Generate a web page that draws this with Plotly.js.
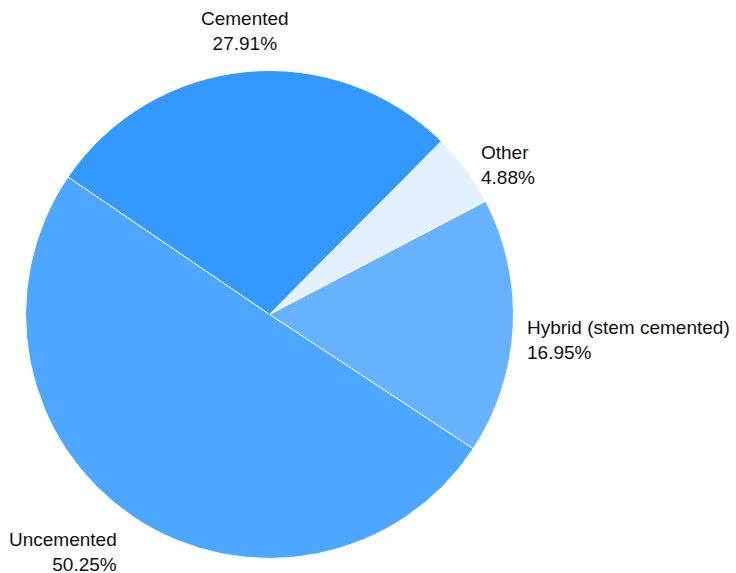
<!DOCTYPE html>
<html>
<head>
<meta charset="utf-8">
<script src="https://cdn.plot.ly/plotly-3.0.1.min.js"></script>
<style>html,body{margin:0;padding:0;background:#fff;}#chart{width:736px;height:573px;}</style>
</head>
<body>
<div id="chart"></div>
<script>
const categories = ["Cemented", "Other", "Hybrid (stem cemented)", "Uncemented"];
const shares = [27.91, 4.88, 16.95, 50.25];
const colors = ["#3399FF", "#E3F1FF", "#66B2FF", "#4DA6FF"];

const W = 736, H = 573;
const domX = [0.0347, 0.6977], domY = [0.0253, 0.8770];
const rotation = -55.7;
const FONT = "Liberation Sans, Arial, sans-serif";

// Pie geometry derived from domain (same as Plotly's own computation)
const cx = W * (domX[0] + domX[1]) / 2;
const cy = H * (1 - (domY[0] + domY[1]) / 2);
const r = Math.min(W * (domX[1] - domX[0]), H * (domY[1] - domY[0])) / 2;

const total = shares.reduce((a, b) => a + b, 0);
let cum = 0;
const annotations = categories.map((cat, i) => {
  const mid = rotation + 360 * (cum + shares[i] / 2) / total;
  cum += shares[i];
  const t = mid * Math.PI / 180;
  const s = Math.sin(t), c = Math.cos(t);
  let px, py, xanchor, yanchor, yshift = 0, align;
  if (Math.abs(s) < 0.25) {
    px = cx + s * (r + 16); py = cy - c * (r + 16);
    xanchor = "center"; align = "center";
    yanchor = c > 0 ? "bottom" : "top";
  } else {
    px = cx + s * (r - 7) + Math.sign(s) * 18.7;
    py = cy - c * (r + 28);
    xanchor = s > 0 ? "left" : "right"; align = xanchor;
    yanchor = "middle"; yshift = -12;
  }
  return {
    xref: "paper", yref: "paper",
    x: px / W, y: 1 - py / H,
    xanchor: xanchor, yanchor: yanchor, yshift: yshift, align: align,
    showarrow: false,
    text: cat + "<br>" + shares[i].toFixed(2) + "%",
    font: {family: FONT, size: 19, color: "#111111"}
  };
});

const data = [{
  type: "pie",
  labels: categories,
  values: shares,
  sort: false,
  direction: "clockwise",
  rotation: rotation,
  marker: {colors: colors, line: {color: "#FFFFFF", width: 1}},
  textinfo: "none",
  domain: {x: domX, y: domY},
  hoverinfo: "label+percent",
  automargin: false
}];

const layout = {
  width: W, height: H,
  margin: {l: 0, r: 0, t: 0, b: 0},
  showlegend: false,
  paper_bgcolor: "#FFFFFF",
  font: {family: FONT},
  annotations: annotations
};

Plotly.newPlot("chart", data, layout, {displayModeBar: false, staticPlot: true});
</script>
</body>
</html>
